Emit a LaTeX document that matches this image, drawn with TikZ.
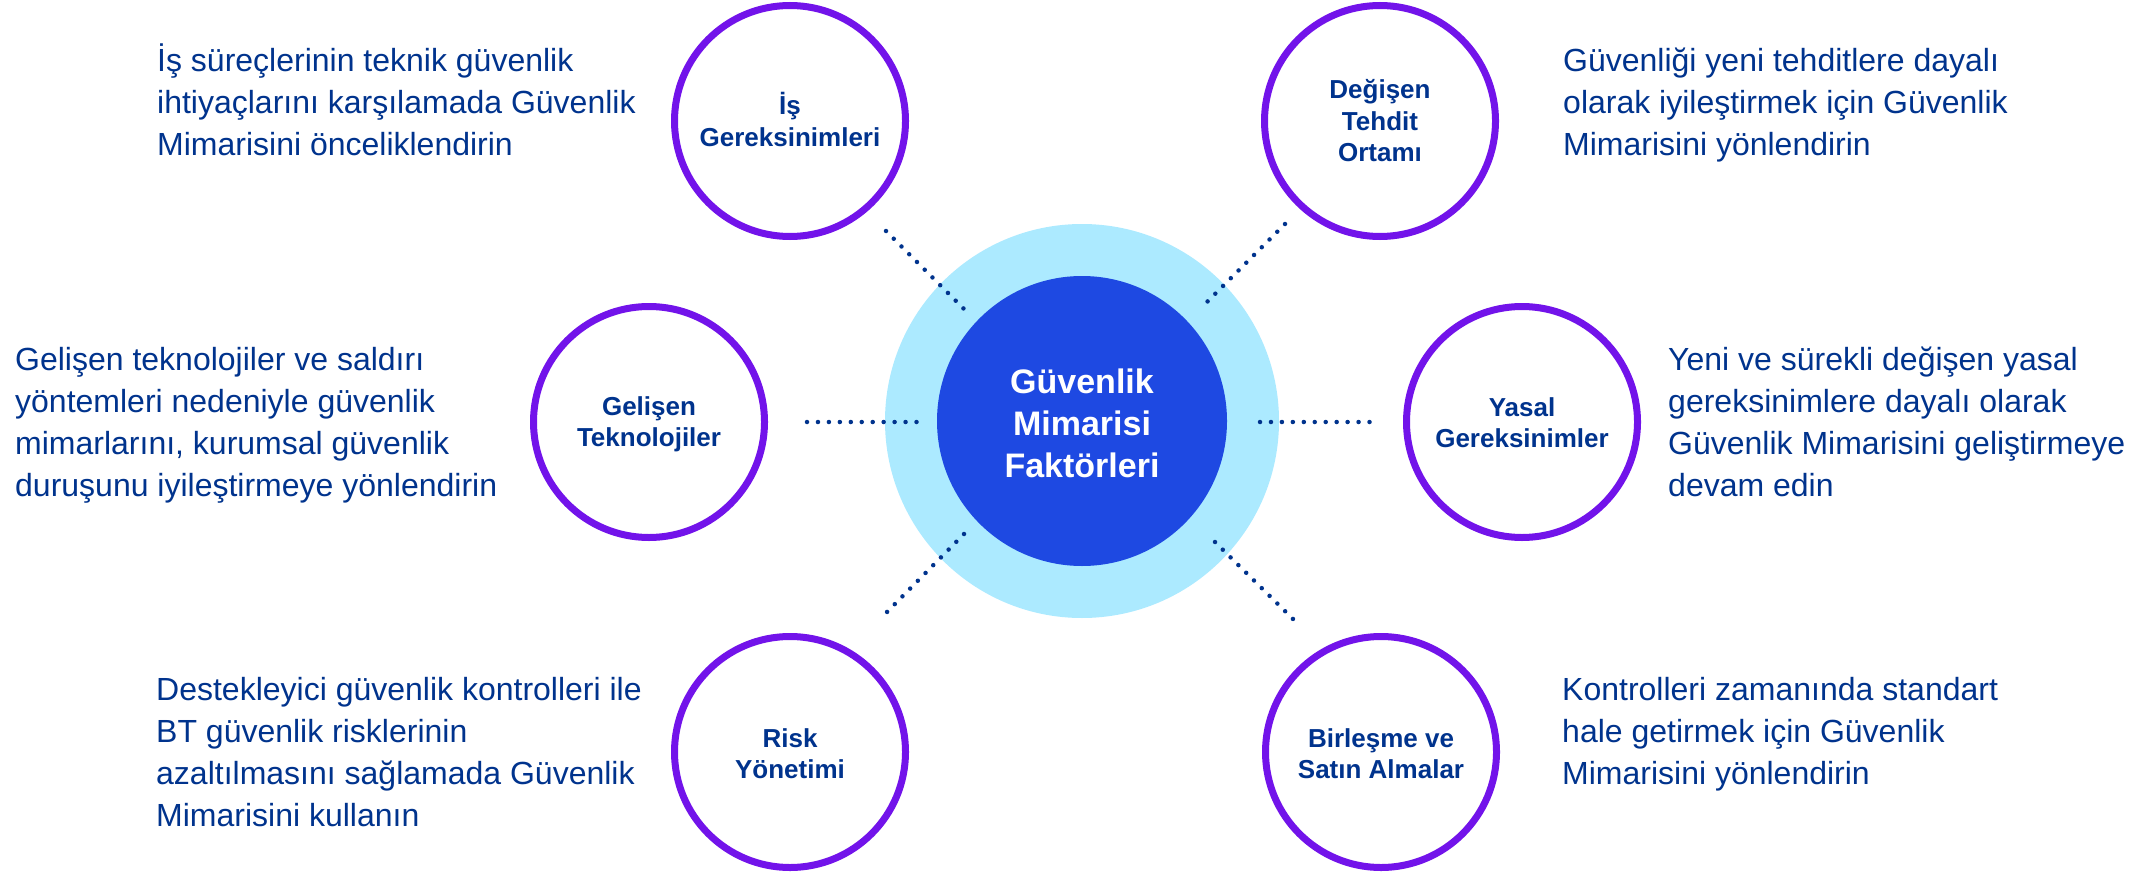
\documentclass[tikz,border=0pt]{standalone}
\usepackage{fontspec}
\setmainfont{Liberation Sans}
\definecolor{navy}{HTML}{00338D}
\definecolor{ringpurple}{HTML}{7213EA}
\definecolor{cobalt}{HTML}{1E49E2}
\definecolor{lightblue}{HTML}{ACEAFF}
\begin{document}
\begin{tikzpicture}[x=1pt,y=-1pt,
 ring/.style={circle, draw=ringpurple, line width=7pt, fill=white, minimum size=231pt, inner sep=0pt},
 ringlabel/.style={anchor=base, inner sep=0pt, text=navy, font=\fontsize{26}{31.5}\selectfont\bfseries},
 desc/.style={anchor=base west, inner sep=0pt, text=navy, font=\fontsize{32}{42}\selectfont},
 centerlabel/.style={anchor=base, inner sep=0pt, text=white, font=\fontsize{34}{42}\selectfont\bfseries},
 dotline/.style={draw=navy, line width=4.5pt, line cap=round, dash pattern=on 0pt off 10.95pt},
]
\useasboundingbox (0,0) rectangle (2152,872);
\fill[white] (0,0) rectangle (2152,872);

% centre
\node[circle, fill=lightblue, minimum size=394pt, inner sep=0pt] (outer) at (1082,421) {};
\node[circle, fill=cobalt, minimum size=290pt, inner sep=0pt] (inner) at (1082,421) {};
\node[centerlabel] (ctext) at (1082,393) {\begin{tabular}[t]{@{}c@{}}Güvenlik\\Mimarisi\\Faktörleri\end{tabular}};

% dotted connectors
\coordinate (ula) at (886,231);  \coordinate (ulb) at (964,309);
\coordinate (ura) at (1285,224); \coordinate (urb) at (1207,302);
\coordinate (la) at (807,422);   \coordinate (lb) at (917,422);
\coordinate (ra) at (1260,422);  \coordinate (rb) at (1370,422);
\coordinate (lla) at (964,534);  \coordinate (llb) at (887,612);
\coordinate (lra) at (1215,542); \coordinate (lrb) at (1293,619);
\draw[dotline] (ula) -- (ulb);
\draw[dotline] (ura) -- (urb);
\draw[dotline] (la) -- (lb);
\draw[dotline] (ra) -- (rb);
\draw[dotline] (lla) -- (llb);
\draw[dotline] (lra) -- (lrb);

% rings
\node[ring] (is) at (790,121) {};
\node[ring] (degisen) at (1380,121) {};
\node[ring] (gelisen) at (649,422) {};
\node[ring] (yasal) at (1522,422) {};
\node[ring] (risk) at (790,752) {};
\node[ring] (birlesme) at (1381,752) {};

\node[ringlabel] (islbl) at (790,115) {\begin{tabular}[t]{@{}c@{}}İş\\Gereksinimleri\end{tabular}};
\node[ringlabel] (deglbl) at (1380,99) {\begin{tabular}[t]{@{}c@{}}Değişen\\Tehdit\\Ortamı\end{tabular}};
\node[ringlabel] (gellbl) at (649,415) {\begin{tabular}[t]{@{}c@{}}Gelişen\\Teknolojiler\end{tabular}};
\node[ringlabel] (yaslbl) at (1522,416) {\begin{tabular}[t]{@{}c@{}}Yasal\\Gereksinimler\end{tabular}};
\node[ringlabel] (risklbl) at (790,747) {\begin{tabular}[t]{@{}c@{}}Risk\\Yönetimi\end{tabular}};
\node[ringlabel] (birlbl) at (1381,747) {\begin{tabular}[t]{@{}c@{}}Birleşme ve\\Satın Almalar\end{tabular}};

% descriptions
\node[desc] (t1) at (157,72) {\begin{tabular}[t]{@{}l@{}}İş süreçlerinin teknik güvenlik\\ihtiyaçlarını karşılamada Güvenlik\\Mimarisini önceliklendirin\end{tabular}};
\node[desc] (t2) at (1563,72) {\begin{tabular}[t]{@{}l@{}}Güvenliği yeni tehditlere dayalı\\olarak iyileştirmek için Güvenlik\\Mimarisini yönlendirin\end{tabular}};
\node[desc] (t3) at (15,370) {\begin{tabular}[t]{@{}l@{}}Gelişen teknolojiler ve saldırı\\yöntemleri nedeniyle güvenlik\\mimarlarını, kurumsal güvenlik\\duruşunu iyileştirmeye yönlendirin\end{tabular}};
\node[desc] (t4) at (1668,370) {\begin{tabular}[t]{@{}l@{}}Yeni ve sürekli değişen yasal\\gereksinimlere dayalı olarak\\Güvenlik Mimarisini geliştirmeye\\devam edin\end{tabular}};
\node[desc] (t5) at (156,700) {\begin{tabular}[t]{@{}l@{}}Destekleyici güvenlik kontrolleri ile\\BT güvenlik risklerinin\\azaltılmasını sağlamada Güvenlik\\Mimarisini kullanın\end{tabular}};
\node[desc] (t6) at (1562,700) {\begin{tabular}[t]{@{}l@{}}Kontrolleri zamanında standart\\hale getirmek için Güvenlik\\Mimarisini yönlendirin\end{tabular}};
\end{tikzpicture}
\end{document}
